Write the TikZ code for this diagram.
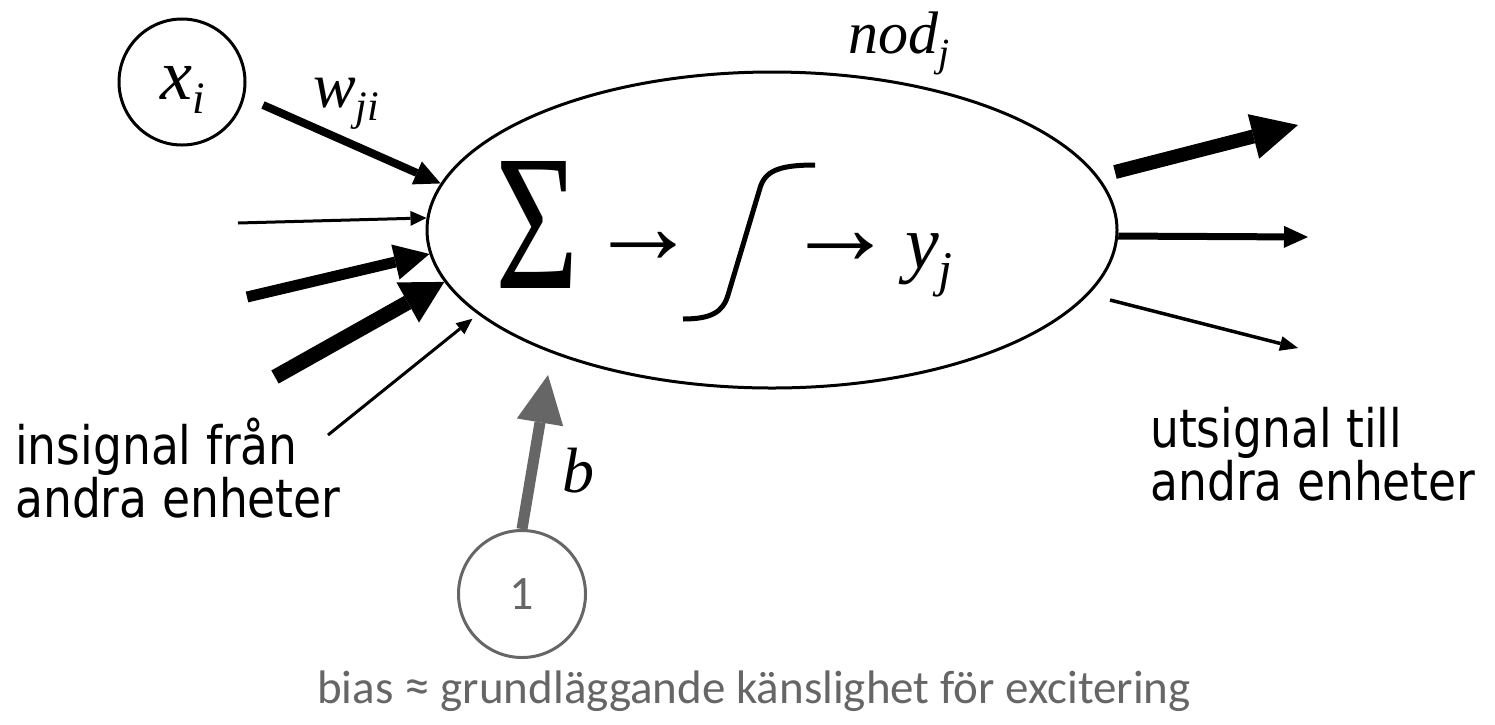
\documentclass[tikz,border=0pt]{standalone}
\usepackage{fontspec}
\usetikzlibrary{arrows.meta,shapes.geometric}
\newfontfamily\tms{Liberation Serif}
\newfontfamily\tah{DejaVu Sans}[FakeStretch=0.86]
\newfontfamily\calfnt{Carlito}
\definecolor{gr}{HTML}{666666}
\newcommand{\fsz}[1]{\fontsize{#1}{#1}\selectfont}
\newcommand{\lowsub}[3]{\raisebox{-#1pt}{\fsz{#2}#3}}
\tikzset{
  lab/.style={inner sep=0pt, anchor=base west},
  mathlab/.style={lab, font=\tms\itshape},
  sidetext/.style={inner sep=0pt, anchor=base west, align=left, font=\tah\fontsize{53}{50}\selectfont},
  conn/.style={line width=#1},
}
\begin{document}
\begin{tikzpicture}[x=1pt,y=-1pt]
\useasboundingbox (0,0) rectangle (1495,724);

% main node
\node[draw, ellipse, line width=3pt, minimum width=690pt, minimum height=316pt, inner sep=0pt] (nod) at (772,230) {};
\node[mathlab] (nodlab) at (848,53) {\fsz{60}nod\lowsub{13}{40}{j}};

% inside
\node[inner sep=0pt, anchor=base, font=\tms\fsz{194}] (sig) at (537,288) {\scalebox{0.74}[1]{Σ}};
\node[inner sep=0pt, anchor=center, font=\tms\fsz{110}] (ar1) at (643,248) {→};
\draw[line width=5pt] (683,319) .. controls (712,319) and (723,311.7) .. (728,295)
   -- (760,188) .. controls (765,171.3) and (778,165) .. (815,165);
\node[inner sep=0pt, anchor=center, font=\tms\fsz{110}] (ar2) at (840,249) {→};
\node[mathlab] (yj) at (905,268) {\fsz{76}y\lowsub{18}{50}{j}};

% input x_i
\node[circle, draw, line width=3pt, minimum size=126pt, inner sep=0pt] (xi) at (182,82) {};
\node[mathlab] (xilab) at (160,99) {\fsz{72}x\lowsub{14}{45}{i}};
\node[mathlab] (wlab) at (313,107) {\fsz{64}w\lowsub{13}{42}{ji}};

% inputs
\coordinate (i1s) at (263,105);
\coordinate (i2s) at (238,223);
\coordinate (i3s) at (247,297);
\coordinate (i4s) at (275,377);
\coordinate (i5s) at (328,435);
\draw[conn=8pt, -{Triangle[length=26pt,width=25pt,line width=0pt]}] (i1s) -- (nod.172);
\draw[conn=3pt, -{Triangle[length=16pt,width=15pt,line width=0pt]}] (i2s) -- (nod.178.75);
\draw[conn=11pt, -{Triangle[length=35pt,width=36pt,line width=0pt]}] (i3s) -- (nod.184.6);
\draw[conn=15pt, -{Triangle[length=42pt,width=46pt,line width=0pt]}] (i4s) -- (nod.189);
\draw[conn=3pt, shorten >=7pt, -{Triangle[length=16pt,width=14pt,line width=0pt]}] (i5s) -- (nod.196);

% outputs
\coordinate (o1s) at (1115,172);
\coordinate (o1e) at (1298,125);
\coordinate (o2e) at (1308,237);
\coordinate (o3s) at (1110,300);
\coordinate (o3e) at (1298,348);
\draw[conn=14pt, -{Triangle[length=46pt,width=46pt,line width=0pt]}] (o1s) -- (o1e);
\draw[conn=7pt, -{Triangle[length=24pt,width=22pt,line width=0pt]}] (nod.-1.08) -- (o2e);
\draw[conn=3.5pt, -{Triangle[length=18pt,width=15pt,line width=0pt]}] (o3s) -- (o3e);

% bias
\node[circle, draw=gr, line width=3pt, minimum size=127pt, inner sep=0pt, text=gr, font=\calfnt\fsz{48}] (one) at (522,594) {1};
\coordinate (btip) at (548,375);
\draw[conn=11pt, draw=gr, fill=gr, -{Triangle[length=48pt,width=47pt,line width=0pt]}] (one.north) -- (btip);
\node[mathlab] (blab) at (562,492) {\fsz{64}b};

% texts
\node[sidetext] (intext) at (15,517) {insignal från\\andra enheter};
\node[sidetext] (uttext) at (1150,500) {utsignal till\\andra enheter};
\node[lab, text=gr, font=\calfnt\fsz{47}] (biastext) at (317,703) {bias {\fsz{52}≈} grundläggande känslighet för excitering};
\end{tikzpicture}
\end{document}
